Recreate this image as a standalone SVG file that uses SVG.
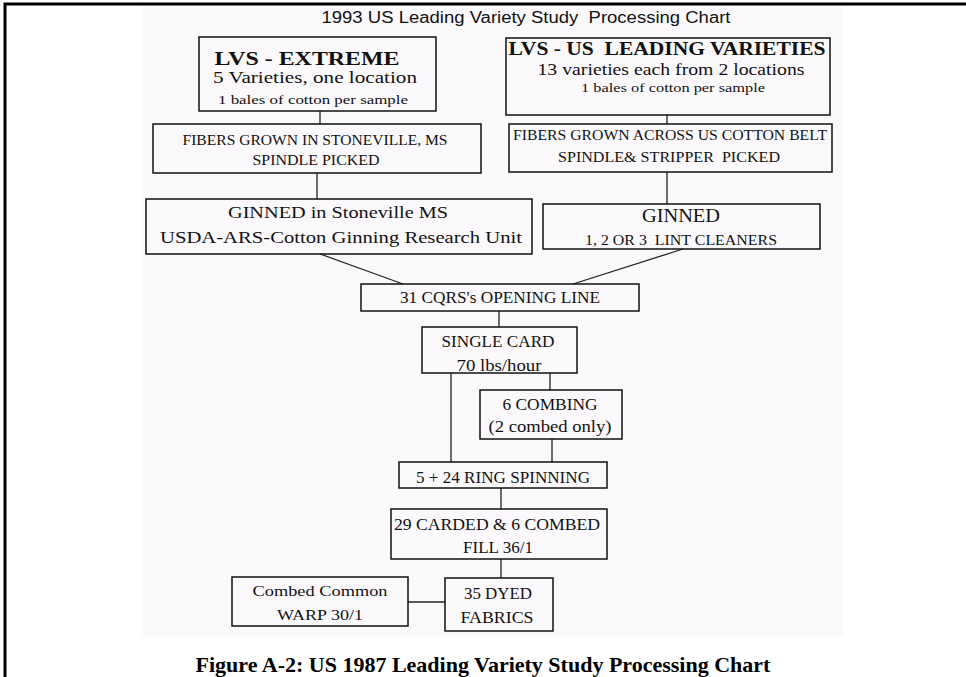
<svg xmlns="http://www.w3.org/2000/svg" width="966" height="677" viewBox="0 0 966 677">
  <style>
    .box { fill: none; stroke: #111; stroke-width: 1.5; }
    .wire { fill: none; stroke: #222; stroke-width: 1.3; }
    .t { font-family: "Liberation Serif", "Times New Roman", serif; fill: #111; text-anchor: middle; lengthAdjust: spacingAndGlyphs; }
    .b { font-weight: bold; }
    .s15 { font-size: 15px; }
    .s16 { font-size: 16px; }
    .s17 { font-size: 17px; }
    .s18 { font-size: 18px; }
    .s13 { font-size: 13px; }
    .pre { white-space: pre; }
  </style>

  <!-- page background and frame -->
  <rect x="0" y="0" width="966" height="677" fill="#ffffff"/>
  <rect x="142" y="6" width="701" height="630" fill="#fcf9fc"/>
  <path d="M5 677 V4 H966" fill="none" stroke="#000" stroke-width="3"/>

  <!-- heading -->
  <text x="526" y="23" font-family="Liberation Sans, Arial, sans-serif" font-size="16" fill="#111" text-anchor="middle" textLength="409" lengthAdjust="spacingAndGlyphs" class="pre">1993 US Leading Variety Study  Processing Chart</text>

  <!-- connectors -->
  <g id="connectors">
    <line class="wire" x1="320" y1="111" x2="320" y2="124"/>
    <line class="wire" x1="667" y1="115" x2="667" y2="124"/>
    <line class="wire" x1="317" y1="173" x2="317" y2="199"/>
    <line class="wire" x1="667" y1="172" x2="667" y2="204"/>
    <line class="wire" x1="320" y1="254" x2="403" y2="284"/>
    <line class="wire" x1="683" y1="249" x2="573" y2="284"/>
    <line class="wire" x1="499" y1="311" x2="499" y2="327"/>
    <line class="wire" x1="451" y1="373" x2="451" y2="462"/>
    <line class="wire" x1="550" y1="373" x2="550" y2="390"/>
    <line class="wire" x1="552" y1="439" x2="552" y2="462"/>
    <line class="wire" x1="501" y1="488" x2="501" y2="509"/>
    <line class="wire" x1="501" y1="559" x2="501" y2="578"/>
    <line class="wire" x1="408" y1="602" x2="445" y2="602"/>
  </g>

  <g id="lvs-extreme">
    <rect class="box" x="199" y="37" width="237" height="74"/>
    <text class="t b s18" x="307" y="65" textLength="185" lengthAdjust="spacingAndGlyphs">LVS - EXTREME</text>
    <text class="t s17" x="315" y="83" textLength="204" lengthAdjust="spacingAndGlyphs">5 Varieties, one location</text>
    <text class="t s13" x="313" y="104" textLength="190" lengthAdjust="spacingAndGlyphs">1 bales of cotton per sample</text>
  </g>

  <g id="lvs-us-leading">
    <rect class="box" x="506" y="38" width="324" height="77"/>
    <text class="t b s18 pre" x="667" y="55" textLength="317" lengthAdjust="spacingAndGlyphs">LVS - US  LEADING VARIETIES</text>
    <text class="t s17" x="671" y="75" textLength="267" lengthAdjust="spacingAndGlyphs">13 varieties each from 2 locations</text>
    <text class="t s13" x="673" y="92" textLength="184" lengthAdjust="spacingAndGlyphs">1 bales of cotton per sample</text>
  </g>

  <g id="grown-stoneville">
    <rect class="box" x="153" y="124" width="328" height="49"/>
    <text class="t s15" x="315" y="145" textLength="265" lengthAdjust="spacingAndGlyphs">FIBERS GROWN IN STONEVILLE, MS</text>
    <text class="t s15" x="316" y="165" textLength="127" lengthAdjust="spacingAndGlyphs">SPINDLE PICKED</text>
  </g>

  <g id="grown-belt">
    <rect class="box" x="509" y="124" width="323" height="48"/>
    <text class="t s15" x="670" y="140" textLength="314" lengthAdjust="spacingAndGlyphs">FIBERS GROWN ACROSS US COTTON BELT</text>
    <text class="t s15 pre" x="669" y="162" textLength="222" lengthAdjust="spacingAndGlyphs">SPINDLE&amp; STRIPPER  PICKED</text>
  </g>

  <g id="ginned-stoneville">
    <rect class="box" x="146" y="199" width="386" height="55"/>
    <text class="t s17" x="338" y="218" textLength="220" lengthAdjust="spacingAndGlyphs">GINNED in Stoneville MS</text>
    <text class="t s17" x="341" y="243" textLength="362" lengthAdjust="spacingAndGlyphs">USDA-ARS-Cotton Ginning Research Unit</text>
  </g>

  <g id="ginned-lint">
    <rect class="box" x="543" y="204" width="277" height="45"/>
    <text class="t s18" x="681" y="222" textLength="78" lengthAdjust="spacingAndGlyphs">GINNED</text>
    <text class="t s15 pre" x="681" y="245" textLength="192" lengthAdjust="spacingAndGlyphs">1, 2 OR 3  LINT CLEANERS</text>
  </g>

  <g id="opening-line">
    <rect class="box" x="361" y="284" width="278" height="27"/>
    <text class="t s16" x="500" y="303" textLength="200" lengthAdjust="spacingAndGlyphs">31 CQRS's OPENING LINE</text>
  </g>

  <g id="single-card">
    <rect class="box" x="422" y="327" width="155" height="46"/>
    <text class="t s16" x="498" y="347" textLength="113" lengthAdjust="spacingAndGlyphs">SINGLE CARD</text>
    <text class="t s16" x="499" y="371" textLength="85" lengthAdjust="spacingAndGlyphs">70 lbs/hour</text>
  </g>

  <g id="combing">
    <rect class="box" x="480" y="390" width="142" height="49"/>
    <text class="t s16" x="550" y="410" textLength="95" lengthAdjust="spacingAndGlyphs">6 COMBING</text>
    <text class="t s16" x="550" y="432" textLength="123" lengthAdjust="spacingAndGlyphs">(2 combed only)</text>
  </g>

  <g id="ring-spinning">
    <rect class="box" x="399" y="462" width="208" height="26"/>
    <text class="t s16" x="503" y="483" textLength="174" lengthAdjust="spacingAndGlyphs">5 + 24 RING SPINNING</text>
  </g>

  <g id="carded-combed">
    <rect class="box" x="391" y="509" width="216" height="50"/>
    <text class="t s16" x="497" y="530" textLength="206" lengthAdjust="spacingAndGlyphs">29 CARDED &amp; 6 COMBED</text>
    <text class="t s16" x="498" y="553" textLength="70" lengthAdjust="spacingAndGlyphs">FILL 36/1</text>
  </g>

  <g id="dyed-fabrics">
    <rect class="box" x="445" y="578" width="108" height="53"/>
    <text class="t s16" x="498" y="599" textLength="68" lengthAdjust="spacingAndGlyphs">35 DYED</text>
    <text class="t s16" x="497" y="623" textLength="73" lengthAdjust="spacingAndGlyphs">FABRICS</text>
  </g>

  <g id="combed-warp">
    <rect class="box" x="232" y="577" width="176" height="49"/>
    <text class="t s15" x="320" y="596" textLength="135" lengthAdjust="spacingAndGlyphs">Combed Common</text>
    <text class="t s15" x="320" y="620" textLength="86" lengthAdjust="spacingAndGlyphs">WARP 30/1</text>
  </g>

  <!-- caption -->
  <text x="483" y="672" font-family="Liberation Serif, Times New Roman, serif" font-weight="bold" font-size="22" fill="#000" text-anchor="middle">Figure A-2: US 1987 Leading Variety Study Processing Chart</text>
</svg>
